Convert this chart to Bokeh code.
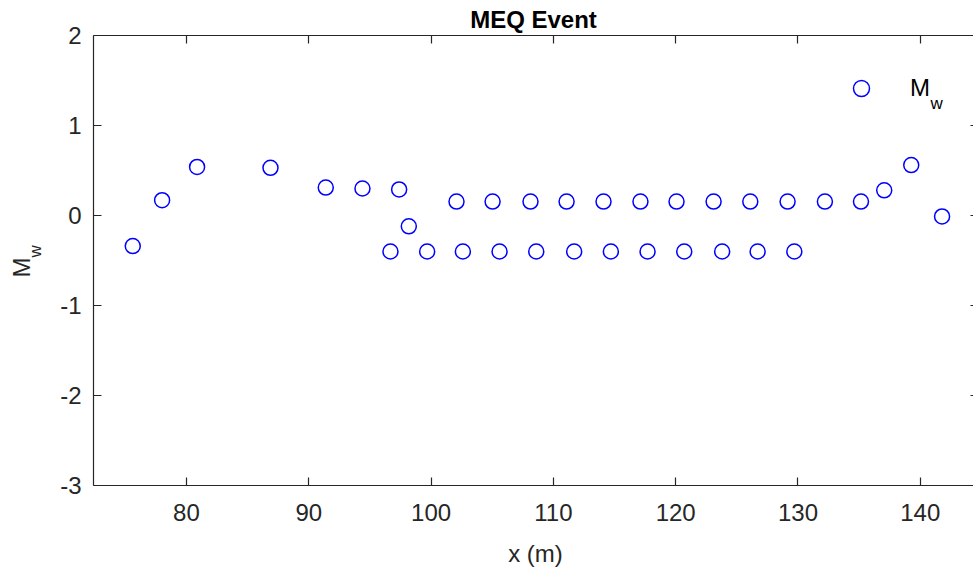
import math
from bokeh.plotting import figure
from bokeh.models import FixedTicker, LinearAxis, Label, Legend, LegendItem
from bokeh.embed import file_html
from bokeh.resources import INLINE

# ---- data ----
x_m = [75.61, 78.01, 80.87, 86.87, 91.39, 94.39, 97.39, 98.18, 96.68, 99.68,
       102.08, 102.60, 105.03, 105.60, 108.13, 108.60, 111.08, 111.70,
       114.10, 114.70, 117.12, 117.70, 120.07, 120.70, 123.10, 123.80,
       126.10, 126.70, 129.15, 129.70, 132.20, 135.15, 137.05, 139.26, 141.78]
mw = [-0.34, 0.17, 0.54, 0.53, 0.31, 0.30, 0.29, -0.12, -0.40, -0.40,
      0.155, -0.40, 0.155, -0.40, 0.155, -0.40, 0.155, -0.40,
      0.155, -0.40, 0.155, -0.40, 0.155, -0.40, 0.155, -0.40,
      0.155, -0.40, 0.155, -0.40, 0.155, 0.155, 0.28, 0.56, -0.01]
x_ticks = [80, 90, 100, 110, 120, 130, 140]
y_ticks = [-3, -2, -1, 0, 1, 2]
y_tick_labels = ["-3", "-2", "-1", "0", "1", "2"]
title_text = "MEQ Event"
x_label = "x (m)"
y_label_main, y_label_sub = "M", "w"
legend_main, legend_sub = "M", "w"

# ---- layout ----
W, H = 973, 569
FL, FR, FT, FB = 93, 973, 35, 485   # frame edges in pixels
X0, X1 = 72.40, 144.35
Y0, Y1 = -3, 2
FONT = "Liberation Sans"
AX = "#262626"

def px_x(px):
    return X0 + (px - FL) / (FR - FL) * (X1 - X0)

def px_y(py):
    return Y1 - (py - FT) / (FB - FT) * (Y1 - Y0)

p = figure(width=W, height=H, x_range=(X0, X1), y_range=(Y0, Y1),
           output_backend="svg", toolbar_location=None,
           min_border_left=FL, min_border_right=W - FR,
           min_border_top=FT, min_border_bottom=H - FB,
           x_axis_location=None, y_axis_location=None)
p.outline_line_color = None
p.xgrid.visible = False
p.ygrid.visible = False
p.background_fill_color = "white"
p.border_fill_color = "white"

def style_axis(ax, ticks, show_labels, tick_in=8):
    ax.ticker = FixedTicker(ticks=ticks)
    ax.axis_line_color = AX
    ax.axis_line_width = 1.2
    ax.major_tick_line_color = AX
    ax.major_tick_line_width = 1.2
    ax.major_tick_in = tick_in
    ax.major_tick_out = 0
    ax.minor_tick_line_color = None
    ax.major_label_text_font = FONT
    if show_labels:
        ax.major_label_text_color = AX
        ax.major_label_text_font_size = "24px"
    else:
        ax.major_label_text_color = None
        ax.major_label_text_font_size = "0px"
        ax.major_label_standoff = 0

bottom = LinearAxis()
style_axis(bottom, x_ticks, True)
bottom.major_label_standoff = 18
p.add_layout(bottom, "below")

left = LinearAxis()
style_axis(left, y_ticks, True)
left.major_label_standoff = 12
left.major_label_overrides = {t: s for t, s in zip(y_ticks, y_tick_labels)}
p.add_layout(left, "left")

top = LinearAxis()
style_axis(top, x_ticks, False)
p.add_layout(top, "above")

right = LinearAxis()
style_axis(right, y_ticks, False, tick_in=3)
right.axis_line_color = None
p.add_layout(right, "right")

p.title.text = title_text
p.title.align = "center"
p.title.text_font = FONT
p.title.text_font_size = "24px"
p.title.text_font_style = "bold"
p.title.text_color = "black"
p.title.standoff = 6

r = p.scatter(x_m, mw, marker="circle", size=15, fill_color=None,
              line_color="#0000FF", line_width=1.5)

legend = Legend(items=[LegendItem(label=legend_main, renderers=[r])],
                location="top_right", border_line_color=None,
                background_fill_alpha=0, padding=0, margin=33,
                glyph_width=40, glyph_height=40, label_standoff=29,
                label_width=30, label_text_font=FONT,
                label_text_font_size="24px", label_text_color="black")
p.add_layout(legend, "center")

p.add_layout(Label(x=px_x(930), y=px_y(103), text=legend_sub,
                   text_font=FONT, text_font_size="17px", text_color="black",
                   text_align="left", text_baseline="alphabetic"))

# x-axis label (in the bottom side panel)
p.add_layout(Label(x=px_x(535), y=px_y(552.5), text=x_label,
                   text_font=FONT, text_font_size="24px", text_color=AX,
                   text_align="center", text_baseline="middle"), "below")

# y-axis label "M" with subscript "w", rotated (placed in the left side panel)
p.add_layout(Label(x=px_x(20.5), y=px_y(277), text=y_label_main, angle=math.pi / 2,
                   text_font=FONT, text_font_size="24px", text_color=AX,
                   text_align="left", text_baseline="middle"), "left")
p.add_layout(Label(x=px_x(35), y=px_y(257), text=y_label_sub, angle=math.pi / 2,
                   text_font=FONT, text_font_size="17px", text_color=AX,
                   text_align="left", text_baseline="middle"), "left")

open("out.html", "w").write(file_html(p, INLINE))
